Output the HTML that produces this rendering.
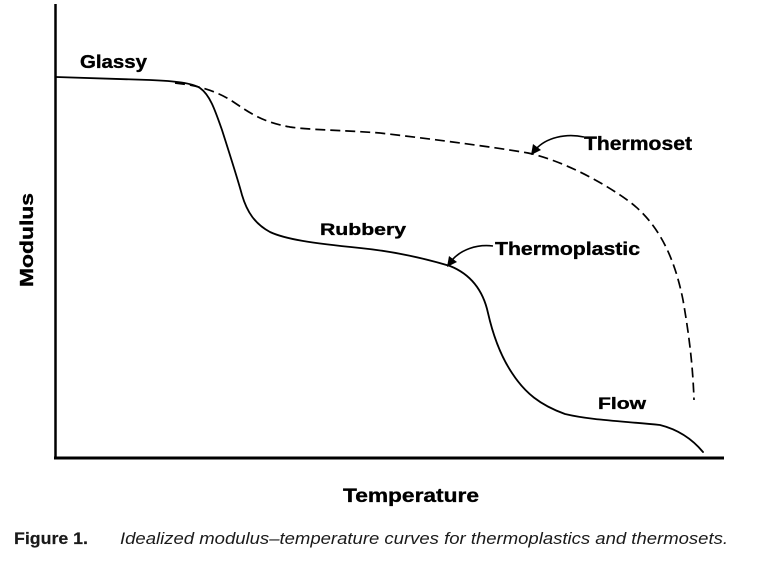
<!DOCTYPE html>
<html>
<head>
<meta charset="utf-8">
<style>
  html, body { margin:0; padding:0; background:#fff; }
  svg { display:block; }
  .lbl { font-family:"Liberation Sans", sans-serif; font-weight:bold; fill:#000; stroke:#000; stroke-width:0.35; }
</style>
</head>
<body>
<svg width="777" height="567" viewBox="0 0 777 567" xmlns="http://www.w3.org/2000/svg">
  <rect width="777" height="567" fill="#fff"/>
  <!-- axes -->
  <line x1="55.5" y1="4" x2="55.5" y2="459" stroke="#000" stroke-width="2.5"/>
  <line x1="54" y1="458" x2="724" y2="458" stroke="#000" stroke-width="3"/>

  <!-- thermoplastic solid curve -->
  <path d="M56,77 L150,80 C175,81 192,83 200,88 C210,95 215,110 222,130 C230,155 238,180 242,195 C247,212 255,224 270,232 C285,239 310,243 360,248 C400,252 430,260 450,266 C470,274 483,290 488,313 C493,335 500,355 512,373 C525,393 540,405 565,414 C590,420 620,421 660,425 C680,430 693,440 703,452"
        fill="none" stroke="#000" stroke-width="1.8" stroke-linecap="round"/>

  <!-- thermoset dashed curve -->
  <path d="M175,83 C195,85 215,90 232,101 C250,113 262,122 290,127 C310,130 340,130 380,133 C440,140 500,148 528,153 C560,160 600,180 630,202 C660,225 675,260 683,300 C690,340 693,370 694,400"
        fill="none" stroke="#000" stroke-width="1.7" stroke-dasharray="10 5"/>

  <!-- arrows -->
  <path d="M584,137 C565,133 546,138 536,149" fill="none" stroke="#000" stroke-width="1.6"/>
  <polygon points="531,155 533,144 541,150" fill="#000"/>
  <path d="M493,246 C476,244 461,250 452,260" fill="none" stroke="#000" stroke-width="1.6"/>
  <polygon points="447,267 449,256 457,262" fill="#000"/>

  <!-- labels -->
  <text class="lbl" x="80" y="68" font-size="18" textLength="67" lengthAdjust="spacingAndGlyphs">Glassy</text>
  <text class="lbl" x="320" y="235" font-size="17" textLength="86" lengthAdjust="spacingAndGlyphs">Rubbery</text>
  <text class="lbl" x="495" y="255" font-size="18" textLength="145" lengthAdjust="spacingAndGlyphs">Thermoplastic</text>
  <text class="lbl" x="584" y="150" font-size="19" textLength="108" lengthAdjust="spacingAndGlyphs">Thermoset</text>
  <text class="lbl" x="598" y="409" font-size="16.5" textLength="48" lengthAdjust="spacingAndGlyphs">Flow</text>
  <text class="lbl" x="343" y="502" font-size="19" textLength="136" lengthAdjust="spacingAndGlyphs">Temperature</text>
  <text class="lbl" transform="translate(33,287) rotate(-90)" x="0" y="0" font-size="18" textLength="94" lengthAdjust="spacingAndGlyphs">Modulus</text>

  <!-- caption -->
  <text x="14" y="544" font-family="'Liberation Sans', sans-serif" font-weight="bold" font-size="17" fill="#1a1a1a" stroke="#1a1a1a" stroke-width="0.2" textLength="74" lengthAdjust="spacingAndGlyphs">Figure 1.</text>
  <text x="120" y="544" font-family="'Liberation Sans', sans-serif" font-style="italic" font-size="16.5" fill="#1a1a1a" textLength="608" lengthAdjust="spacingAndGlyphs">Idealized modulus–temperature curves for thermoplastics and thermosets.</text>
</svg>
</body>
</html>
